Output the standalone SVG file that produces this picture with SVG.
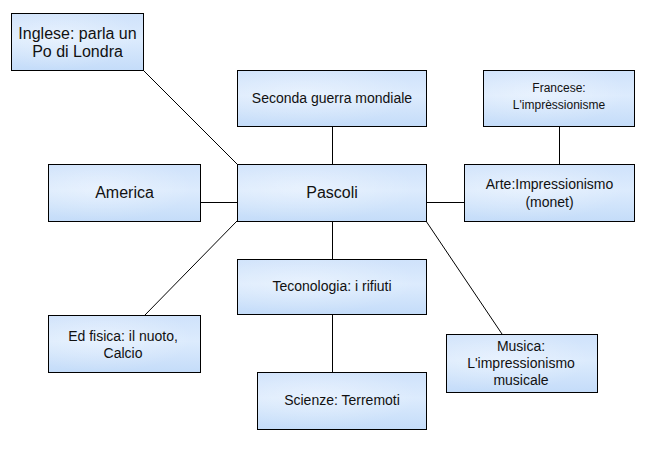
<svg xmlns="http://www.w3.org/2000/svg" width="658" height="462" viewBox="0 0 658 462">
<defs>
<linearGradient id="fill" x1="0" y1="0" x2="0" y2="1">
<stop offset="0" stop-color="#cfe2fb"/>
<stop offset="0.45" stop-color="#dcebfd"/>
<stop offset="1" stop-color="#c4dcf9"/>
</linearGradient>
<radialGradient id="cloud" cx="0.35" cy="0.4" r="0.6">
<stop offset="0" stop-color="#ffffff" stop-opacity="0.35"/>
<stop offset="1" stop-color="#ffffff" stop-opacity="0"/>
</radialGradient>
</defs>
<style>
.box{fill:url(#fill);stroke:#000;stroke-width:1}
.hl{fill:url(#cloud);stroke:none}
text{font-family:"Liberation Sans",Arial,sans-serif;fill:#111;text-anchor:middle}
.t14{font-size:14px}
.t16{font-size:16px}
.t12{font-size:12px}
.conn line{stroke:#000;stroke-width:1;fill:none}
</style>
<rect width="658" height="462" fill="#fff"/>
<g id="connectors" class="conn">
<line x1="332.5" y1="126.5" x2="332.5" y2="164.5"/>
<line x1="559.5" y1="126.5" x2="559.5" y2="164.5"/>
<line x1="426.5" y1="202.5" x2="464.5" y2="202.5"/>
<line x1="200.5" y1="202.5" x2="237.5" y2="202.5"/>
<line x1="332.5" y1="221.5" x2="332.5" y2="259.5"/>
<line x1="332.5" y1="314.5" x2="332.5" y2="372.5"/>
<line x1="143" y1="70" x2="237" y2="164"/>
<line x1="237" y1="221" x2="145" y2="315"/>
<line x1="426" y1="221" x2="502" y2="334"/>
</g>
<g id="inglese">
<rect class="box" x="11.5" y="13.5" width="132" height="57"/>
<rect class="hl" x="12" y="14" width="131" height="56"/>
<text class="t16" x="77.5" y="39">Inglese: parla un</text>
<text class="t16" x="77.5" y="57">Po di Londra</text>
</g>
<g id="seconda">
<rect class="box" x="237.5" y="70.5" width="189" height="56"/>
<rect class="hl" x="238" y="71" width="188" height="55"/>
<text class="t14" x="332" y="103">Seconda guerra mondiale</text>
</g>
<g id="francese">
<rect class="box" x="483.5" y="70.5" width="151" height="56"/>
<rect class="hl" x="484" y="71" width="150" height="55"/>
<text class="t12" x="559" y="92">Francese:</text>
<text class="t12" x="559" y="109">L'imprèssionisme</text>
</g>
<g id="pascoli">
<rect class="box" x="237.5" y="164.5" width="189" height="57"/>
<rect class="hl" x="238" y="165" width="188" height="56"/>
<text class="t16" x="332" y="198">Pascoli</text>
</g>
<g id="america">
<rect class="box" x="48.5" y="164.5" width="152" height="57"/>
<rect class="hl" x="49" y="165" width="151" height="56"/>
<text class="t16" x="124.5" y="198">America</text>
</g>
<g id="arte">
<rect class="box" x="464.5" y="164.5" width="170" height="57"/>
<rect class="hl" x="465" y="165" width="169" height="56"/>
<text class="t14" x="549.5" y="189">Arte:Impressionismo</text>
<text class="t14" x="549.5" y="207">(monet)</text>
</g>
<g id="teconologia">
<rect class="box" x="237.5" y="259.5" width="189" height="55"/>
<rect class="hl" x="238" y="260" width="188" height="54"/>
<text class="t14" x="332" y="291">Teconologia: i rifiuti</text>
</g>
<g id="edfisica">
<rect class="box" x="48.5" y="315.5" width="152" height="57"/>
<rect class="hl" x="49" y="316" width="151" height="56"/>
<text class="t14" x="123" y="341">Ed fisica: il nuoto,</text>
<text class="t14" x="123" y="358">Calcio</text>
</g>
<g id="musica">
<rect class="box" x="446.5" y="334.5" width="151" height="58"/>
<rect class="hl" x="447" y="335" width="150" height="57"/>
<text class="t14" x="521" y="351">Musica:</text>
<text class="t14" x="521" y="368">L'impressionismo</text>
<text class="t14" x="521" y="385">musicale</text>
</g>
<g id="scienze">
<rect class="box" x="257.5" y="372.5" width="169" height="57"/>
<rect class="hl" x="258" y="373" width="168" height="56"/>
<text class="t14" x="342" y="405">Scienze: Terremoti</text>
</g>
</svg>
